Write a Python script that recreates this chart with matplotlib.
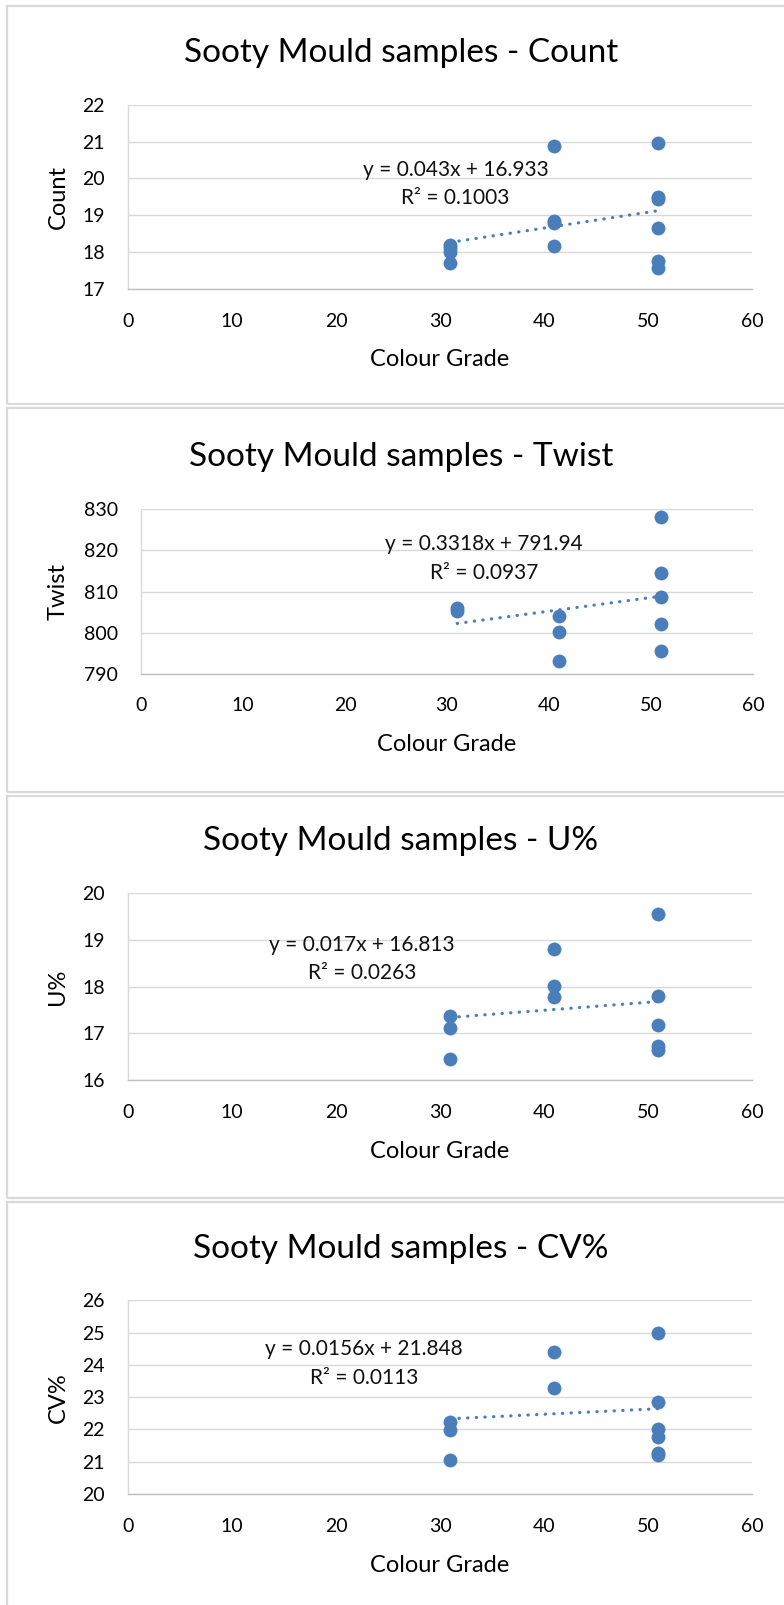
import numpy as np
import matplotlib
matplotlib.use('Agg')
import matplotlib.pyplot as plt
from matplotlib.patches import Rectangle

# Colour grade of each sample (x values), per chart
count_grade = [31, 31, 31, 31, 41, 41, 41, 41, 51, 51, 51, 51, 51, 51]
count_vals = [18.2, 18.1, 18.0, 17.7, 20.89, 18.85, 18.8, 18.18, 20.97, 19.5, 19.43, 18.66, 17.76, 17.56]

twist_grade = [31, 31, 41, 41, 41, 51, 51, 51, 51, 51]
twist_vals = [806.0, 805.2, 804.1, 800.2, 793.1, 828.1, 814.6, 808.6, 802.1, 795.6]

u_grade = [31, 31, 31, 41, 41, 41, 51, 51, 51, 51, 51]
u_vals = [17.37, 17.12, 16.46, 18.81, 18.01, 17.78, 19.54, 17.79, 17.17, 16.74, 16.64]

cv_grade = [31, 31, 31, 41, 41, 51, 51, 51, 51, 51, 51]
cv_vals = [22.22, 21.98, 21.04, 24.40, 23.27, 25.0, 22.86, 22.01, 21.78, 21.26, 21.2]

# Linear trendlines as reported on the charts (slope, intercept, R squared text)
count_fit = (0.043, 16.933, '0.1003')
twist_fit = (0.3318, 791.94, '0.0937')
u_fit = (0.017, 16.813, '0.0263')
cv_fit = (0.0156, 21.848, '0.0113')

names = ['Count', 'Twist', 'U%', 'CV%']
x_ticks = [0, 10, 20, 30, 40, 50, 60]

plt.rcParams['font.family'] = ['Lato', 'DejaVu Sans']

W, H = 784, 1605
fig = plt.figure(figsize=(W / 100, H / 100), dpi=100)
blue = '#4a7ebb'


def fig_box(left, right, top, bottom):
  # pixel box -> figure fraction [x, y, w, h]
  return [left / W, 1 - bottom / H, (right - left) / W, (bottom - top) / H]


def fmt_eq(slope, intercept):
  return f"y = {slope}x + {intercept}"


# layout per panel: frame top/bottom, axes box, title baseline, eq. label position, y range
panels = [
  dict(frame=(6, 404), axbox=(128, 752, 104.7, 289), title_y=62, eq_xy=(31.5, 20.23), r2_xy=(31.5, 19.47),
       ylim=(17, 22), ystep=1, grade=count_grade, vals=count_vals, fit=count_fit),
  dict(frame=(408, 792), axbox=(141, 753, 509.3, 673.7), title_y=466, eq_xy=(33.6, 821.6), r2_xy=(33.6, 814.6),
       ylim=(790, 830), ystep=10, grade=twist_grade, vals=twist_vals, fit=twist_fit),
  dict(frame=(796, 1198), axbox=(128, 752, 892.7, 1080.3), title_y=850, eq_xy=(22.5, 18.88), r2_xy=(22.5, 18.28),
       ylim=(16, 20), ystep=1, grade=u_grade, vals=u_vals, fit=u_fit),
  dict(frame=(1202, 1700), axbox=(128, 752, 1300.4, 1494), title_y=1258, eq_xy=(22.7, 24.48), r2_xy=(22.7, 23.6),
       ylim=(20, 26), ystep=1, grade=cv_grade, vals=cv_vals, fit=cv_fit),
]

for name, p in zip(names, panels):
  # chart frame (right side runs off the page)
  top, bottom = p['frame']
  fig.add_artist(Rectangle((7 / W, 1 - bottom / H), 900 / W, (bottom - top) / H,
                           transform=fig.transFigure, fill=False, edgecolor='#d9d9d9', lw=1.6))

  l, r, t, b = p['axbox']
  ax = fig.add_axes(fig_box(l, r, t, b))

  ax.scatter(p['grade'], p['vals'], s=100, color=blue, linewidths=0, zorder=3, clip_on=False)

  slope, intercept, r2 = p['fit']
  xs = np.array([min(p['grade']), max(p['grade'])])
  ax.plot(xs, slope * xs + intercept, color=blue, lw=2.3, linestyle=(0, (0.1, 2.6)),
          dash_capstyle='round', zorder=4)

  ax.text(*p['eq_xy'], fmt_eq(slope, intercept), ha='center', va='center', fontsize=15, color='#111111')
  ax.text(*p['r2_xy'], f"R² = {r2}", ha='center', va='center', fontsize=15, color='#111111')

  ymin, ymax = p['ylim']
  ax.set_xlim(0, 60)
  ax.set_ylim(ymin, ymax)
  ax.set_xticks(x_ticks)
  ax.set_yticks(np.arange(ymin, ymax + p['ystep'] / 2, p['ystep']))
  ax.grid(axis='y', color='#d9d9d9', lw=1.0)
  ax.set_axisbelow(True)
  for side in ['top', 'right']:
    ax.spines[side].set_visible(False)
  ax.spines['left'].set_color('#d9d9d9')
  ax.spines['bottom'].set_color('#bfbfbf')
  ax.spines['left'].set_linewidth(1.0)
  ax.spines['bottom'].set_linewidth(1.0)
  ax.tick_params(axis='x', length=0, labelsize=14, pad=17)
  ax.tick_params(axis='y', length=0, labelsize=14, pad=16.5)

  # titles and axis labels placed in page pixels
  fig.text(401 / W, 1 - p['title_y'] / H, f"Sooty Mould samples - {name}",
           ha='center', va='baseline', fontsize=24)
  fig.text((l + r) / 2 / W, 1 - (b + 71) / H, 'Colour Grade', ha='center', va='center', fontsize=17)
  fig.text(58 / W, 1 - (t + b) / 2 / H, name, ha='center', va='center', rotation=90, fontsize=17)

fig.savefig('out.png', dpi=100)
